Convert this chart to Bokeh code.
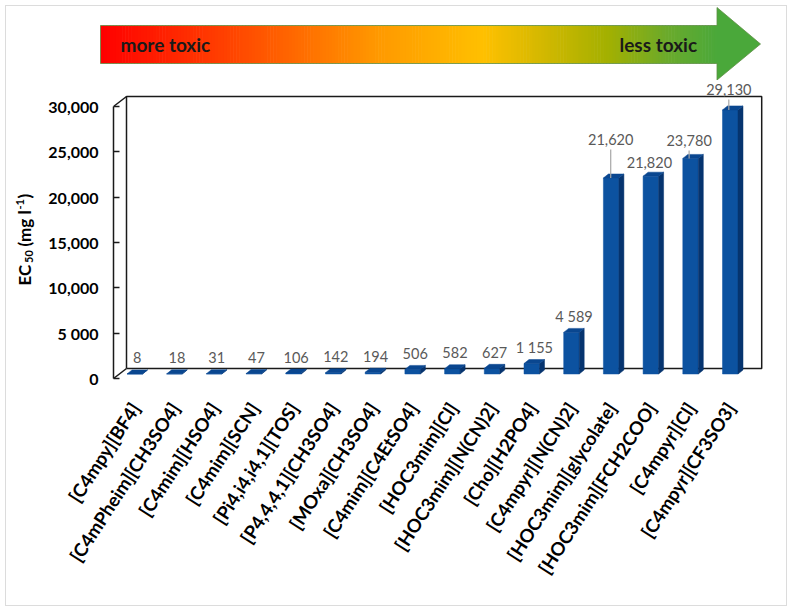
import math
import numpy as np
from bokeh.plotting import figure
from bokeh.models import Range1d, FixedTicker
from bokeh.layouts import column, row
from bokeh.core.properties import value
from bokeh.embed import file_html
from bokeh.resources import INLINE

# ---------------- data ----------------
categories = ["[C4mpy][BF4]", "[C4mPheim][CH3SO4]", "[C4mim][HSO4]", "[C4mim][SCN]",
              "[Pi4,i4,i4,1][TOS]", "[P4,4,4,1][CH3SO4]", "[MOxa][CH3SO4]", "[C4mim][C4EtSO4]",
              "[HOC3mim][Cl]", "[HOC3mim][N(CN)2]", "[Cho][H2PO4]", "[C4mpyr][N(CN)2]",
              "[HOC3mim][glycolate]", "[HOC3mim][FCH2COO]", "[C4mpyr][Cl]", "[C4mpyr][CF3SO3]"]
ec50 = [8, 18, 31, 47, 106, 142, 194, 506, 582, 627, 1155, 4589, 21620, 21820, 23780, 29130]
value_labels = ["8", "18", "31", "47", "106", "142", "194", "506", "582", "627", "1 155",
                "4 589", "21,620", "21,820", "23,780", "29,130"]
y_ticks = [0, 5000, 10000, 15000, 20000, 25000, 30000]
y_tick_labels = ["0", "5 000", "10,000", "15,000", "20,000", "25,000", "30,000"]
y_max = 30000

# label placement tweaks (pixels) and leader lines
label_dx_px = [0] * 12 + [-3, -4, -4, -4]
label_dy_px = [0] * 12 + [22.5, -2, 2, 4.5]
has_leader = [False] * 12 + [True, False, True, True]

# ---------------- geometry (pixels, page origin top-left) ----------------
PW, PH = 792, 611
AH = 80                 # arrow banner height
TW = 41                 # y-title strip width
CW = 39.7               # px per category
YPP = 5000 / 45.33      # data units per px
XL = -0.55              # x data value at front axis (page x 113)
FRAME_L, FRAME_R, FRAME_B = 113, 770, 378
W, H = PW - TW, PH - AH
ML, MR, MT, MB = FRAME_L - TW, PW - FRAME_R, 0, PH - FRAME_B
FW, FH = W - ML - MR, H - MT - MB

DDX, DDY = 13 / CW, 10 * YPP           # back wall depth shift
BX0, BW = 13.5 / CW, 15.5 / CW          # bar front face offset/width
BASE = 4.5 * YPP                        # bar bottom above floor front
TDX, TDY = 5 / CW, 4 * YPP              # bar depth


def prep(fig):
    try:
        fig.frame_align = False
    except Exception:
        pass
    fig.border_fill_color = None
    fig.background_fill_color = None
    fig.outline_line_color = None
    fig.grid.visible = False


p = figure(width=W, height=H, x_range=Range1d(XL, XL + FW / CW), y_range=Range1d(0, FH * YPP),
           output_backend="svg", toolbar_location=None,
           min_border_left=ML, min_border_right=MR, min_border_top=MT, min_border_bottom=MB)
prep(p)

n = len(categories)
# back wall
bx = [XL + DDX, XL + n + DDX, XL + n + DDX, XL + DDX, XL + DDX]
by = [DDY, DDY, y_max + DDY, y_max + DDY, DDY]
p.line(bx, by, line_color="#1a1a1a", line_width=1.5)
p.segment(x0=[XL, XL], y0=[0, y_max], x1=[XL + DDX, XL + DDX], y1=[DDY, y_max + DDY],
          line_color="#1a1a1a", line_width=1.5)

# bars
lefts = [i + XL + BX0 for i in range(n)]
rights = [l + BW for l in lefts]
tops = [v + BASE for v in ec50]
p.quad(left=lefts, right=rights, bottom=[BASE] * n, top=tops,
       fill_color="#0c52a0", line_color="#0c52a0", line_width=0.5)
side_xs = [[r, r + TDX, r + TDX, r] for r in rights]
side_ys = [[BASE, BASE + TDY, t + TDY, t] for t in tops]
p.patches(side_xs, side_ys, fill_color="#06346f", line_color="#06346f", line_width=0.5)
top_xs = [[l, r, r + TDX, l + TDX] for l, r in zip(lefts, rights)]
top_ys = [[t, t, t + TDY, t + TDY] for t in tops]
p.patches(top_xs, top_ys, fill_color="#0a4790", line_color="#0a4790", line_width=0.5)

# data labels
lab_x = [i + XL + 0.6 + dx / CW for i, dx in enumerate(label_dx_px)]
lab_y = [v + BASE + TDY + (12 + dy) * YPP for v, dy in zip(ec50, label_dy_px)]
p.text(x=lab_x, y=lab_y, text=value_labels, text_font=value("Lato"), text_font_size="14.5px",
       text_color="#595959", text_align="center", text_baseline="middle")
lx = [x for x, h in zip(lab_x, has_leader) if h]
ly0 = [y - 10 * YPP for y, h in zip(lab_y, has_leader) if h]
ly1 = [v + BASE for v, h in zip(ec50, has_leader) if h]
p.segment(x0=lx, y0=ly0, x1=lx, y1=ly1, line_color="#a6a6a6", line_width=1.2)

# y axis
yax = p.yaxis[0]
yax.ticker = FixedTicker(ticks=y_ticks)
yax.major_label_overrides = {t: s for t, s in zip(y_ticks, y_tick_labels)}
yax.bounds = (0, y_max)
yax.axis_line_color = "#1a1a1a"
yax.axis_line_width = 1.5
yax.major_tick_in = 6
yax.major_tick_out = 0
yax.major_tick_line_color = "#1a1a1a"
yax.major_tick_line_width = 1.5
yax.minor_tick_line_color = None
yax.major_label_text_font = "Lato"
yax.major_label_text_font_style = "bold"
yax.major_label_text_font_size = "16px"
yax.major_label_text_color = "black"
yax.major_label_standoff = 15

# x axis
xax = p.xaxis[0]
xax.ticker = FixedTicker(ticks=list(range(n)))
xax.major_label_overrides = {i: c for i, c in enumerate(categories)}
xax.major_label_orientation = 57 * math.pi / 180
xax.axis_line_color = None
xax.major_tick_line_color = None
xax.minor_tick_line_color = None
xax.major_label_text_font = "Lato"
xax.major_label_text_font_style = "bold"
xax.major_label_text_font_size = "18.5px"
xax.major_label_text_color = "black"
xax.major_label_standoff = 20

# ---------------- y-axis title strip ----------------
pt = figure(width=TW, height=H, x_range=Range1d(0, TW), y_range=Range1d(0, H),
            output_backend="svg", toolbar_location=None, min_border=0,
            x_axis_location=None, y_axis_location=None)
prep(pt)
# pieces of "EC50 (mg l-1)": (text, x px, y px from page top, size)
title_parts = [("EC", 24, 285, 17), ("50", 28.5, 262.5, 11), ("(mg l", 24, 246, 17),
               ("-1", 19.5, 209, 11), (")", 24, 198, 17)]
for txt, px, py, fs in title_parts:
    pt.text(x=[px], y=[PH - py], text=[txt], angle=math.pi / 2, text_font=value("Lato"),
            text_font_style="bold", text_font_size=f"{fs}px", text_color="black",
            text_align="left", text_baseline="middle")

# ---------------- arrow banner ----------------
pa = figure(width=PW, height=AH, x_range=Range1d(0, PW), y_range=Range1d(AH, 0),
            output_backend="svg", toolbar_location=None, min_border=0,
            x_axis_location=None, y_axis_location=None)
prep(pa)

stops = [(0.0, "#ff0000"), (0.2, "#ff4000"), (0.45, "#ff9900"), (0.62, "#ffc000"),
         (0.82, "#a4b000"), (0.92, "#6aaa2c"), (1.0, "#4aa83a")]


def hex2rgb(h):
    return np.array([int(h[i:i + 2], 16) for i in (1, 3, 5)], dtype=float)


def grad(t):
    for (t0, c0), (t1, c1) in zip(stops[:-1], stops[1:]):
        if t <= t1:
            f = (t - t0) / (t1 - t0)
            c = hex2rgb(c0) * (1 - f) + hex2rgb(c1) * f
            return "#%02x%02x%02x" % tuple(int(round(v)) for v in c)
    return stops[-1][1]


N = 200
xs = np.linspace(100, 717, N + 1)
cols = [grad((i + 0.5) / N) for i in range(N)]
pa.quad(left=xs[:-1], right=xs[1:] + 0.6, bottom=[63] * N, top=[25] * N,
        fill_color=cols, line_color=None)
pa.patch([716.5, 760, 716.5], [7, 43.5, 79.5], fill_color="#4aa83a", line_color=None)
pa.line([100, 716.5, 716.5, 760, 716.5, 716.5, 100, 100], [25, 25, 7, 43.5, 79.5, 63, 63, 25],
        line_color="#5e8f45", line_width=1, line_alpha=0.8)
pa.text(x=[120, 619], y=[44, 44], text=["more toxic", "less toxic"], text_font=value("Lato"),
        text_font_style="bold", text_font_size="19px", text_color="#1a1a1a",
        text_align="left", text_baseline="middle")

layout = column(pa, row(pt, p, spacing=0), spacing=0)
try:
    layout.styles = {"outline": "1.5px solid #dcdcdc", "outline-offset": "-6px",
                     "background-color": "white"}
except Exception:
    pass
open("out.html", "w").write(file_html(layout, INLINE))
